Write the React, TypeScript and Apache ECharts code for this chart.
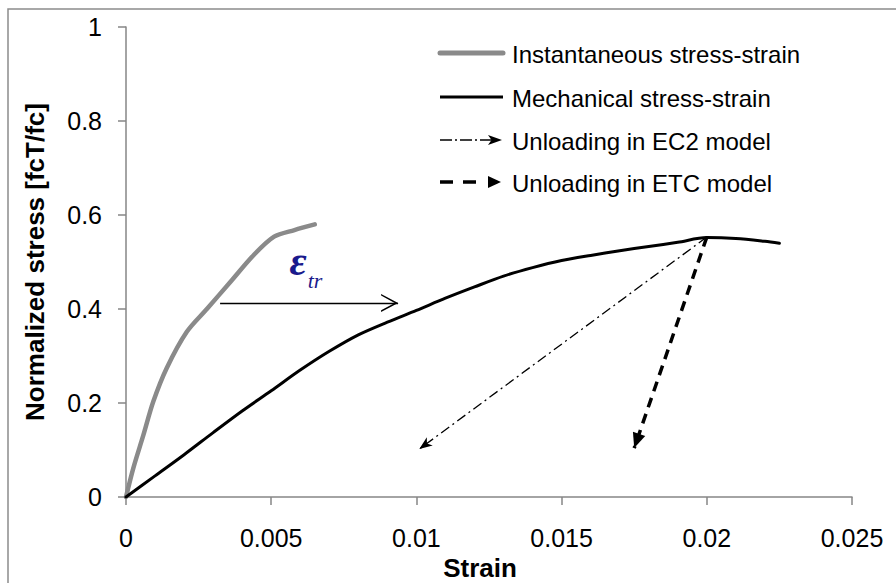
import React, { useEffect, useRef } from "react";
import * as echarts from "echarts";

// ---- data ----
const instStrain = [0, 0.00025, 0.0006, 0.00094, 0.0014, 0.0021, 0.0028, 0.0036, 0.0044, 0.0051, 0.0058, 0.0065];
const instStress = [0, 0.061, 0.132, 0.203, 0.274, 0.352, 0.401, 0.458, 0.515, 0.554, 0.568, 0.58];

const mechStrain = [0, 0.001, 0.002, 0.003, 0.004, 0.005, 0.006, 0.007, 0.008, 0.009, 0.01, 0.011, 0.012, 0.013, 0.014, 0.015, 0.016, 0.017, 0.018, 0.019, 0.02, 0.021, 0.022, 0.0225];
const mechStress = [0, 0.045, 0.09, 0.137, 0.183, 0.226, 0.27, 0.31, 0.345, 0.372, 0.397, 0.423, 0.447, 0.47, 0.488, 0.503, 0.514, 0.524, 0.533, 0.542, 0.552, 0.55, 0.544, 0.54];

// unloading paths [from, to]
const ec2Unloading = [[0.02, 0.553], [0.0101, 0.102]];
const etcUnloading = [[0.02, 0.553], [0.0175, 0.104]];
// transient strain arrow [from, to]
const epsTrArrow = [[0.00324, 0.413], [0.00937, 0.413]];

const xTicks = [0, 0.005, 0.01, 0.015, 0.02, 0.025];
const yTicks = [0, 0.2, 0.4, 0.6, 0.8, 1];

const legendNames = [
  "Instantaneous stress-strain",
  "Mechanical stress-strain",
  "Unloading in EC2 model",
  "Unloading in ETC model",
];

const FONT = '"Liberation Sans", Arial, sans-serif';
const AXIS_GRAY = "#868686";
const CURVE_GRAY = "#8a8a8a";

// arrowhead symbols: tip at the centre of a square box so it lands on the end point
const CHEVRON = "path://M0,0 M34,34 M17,17 L26,34 L24.4,34 L17,20.4 L9.6,34 L8,34 Z";
const BARB = "path://M0,0 M26,26 M13,13 L18,26 L13,22.5 L8,26 Z";
const TRI = "path://M0,0 M30,30 M15,15 L21.5,30 L8.5,30 Z";

export default function App() {
  const ref = useRef<HTMLDivElement>(null);

  useEffect(() => {
    if (!ref.current) return;
    const chart = echarts.init(ref.current, null, { renderer: "svg" });

    const axisLine = { show: true, lineStyle: { color: AXIS_GRAY, width: 1.5 } };
    const axisTick = { show: true, inside: false, length: 8, lineStyle: { color: AXIS_GRAY, width: 1.5 } };

    const legendRowsY = [53, 97, 140, 182];
    const legendGraphics: any[] = [
      { type: "line", shape: { x1: 440, y1: legendRowsY[0], x2: 503, y2: legendRowsY[0] }, style: { stroke: CURVE_GRAY, lineWidth: 5, lineCap: "round" } },
      { type: "line", shape: { x1: 440, y1: legendRowsY[1], x2: 503, y2: legendRowsY[1] }, style: { stroke: "#000", lineWidth: 3 } },
      { type: "line", shape: { x1: 440, y1: legendRowsY[2], x2: 492, y2: legendRowsY[2] }, style: { stroke: "#000", lineWidth: 1.3, lineDash: [12, 3, 2, 3] } },
      { type: "polygon", shape: { points: [[488, legendRowsY[2] - 5], [502, legendRowsY[2]], [488, legendRowsY[2] + 5], [491.5, legendRowsY[2]]] }, style: { fill: "#000" } },
      { type: "line", shape: { x1: 440, y1: legendRowsY[3], x2: 478, y2: legendRowsY[3] }, style: { stroke: "#000", lineWidth: 3.5, lineDash: [13, 10] } },
      { type: "polygon", shape: { points: [[488, legendRowsY[3] - 6], [501, legendRowsY[3]], [488, legendRowsY[3] + 6]] }, style: { fill: "#000" } },
    ];
    legendNames.forEach((n, i) => {
      legendGraphics.push({
        type: "text",
        x: 512,
        y: legendRowsY[i] + 1,
        style: { text: n, fontSize: 24, fontFamily: FONT, fill: "#000", verticalAlign: "middle", align: "left" },
      });
    });

    const option: any = {
      animation: false,
      backgroundColor: "#fff",
      grid: { left: 126, right: 44, top: 27, bottom: 86, containLabel: false, outerBoundsMode: "none" },
      xAxis: {
        type: "value",
        min: xTicks[0],
        max: xTicks[xTicks.length - 1],
        interval: xTicks[1] - xTicks[0],
        splitLine: { show: false },
        axisLine,
        axisTick,
        axisLabel: { show: true, fontSize: 25, color: "#000", fontFamily: FONT, margin: 28, showMinLabel: true, showMaxLabel: true, hideOverlap: false },
        name: "Strain",
        nameLocation: "middle",
        nameGap: 58,
        nameTextStyle: { fontSize: 26, fontWeight: "bold", color: "#000", fontFamily: FONT, padding: [0, 18, 0, 0] },
      },
      yAxis: {
        type: "value",
        min: yTicks[0],
        max: yTicks[yTicks.length - 1],
        interval: yTicks[1] - yTicks[0],
        splitLine: { show: false },
        axisLine,
        axisTick,
        axisLabel: { show: true, fontSize: 25, color: "#000", fontFamily: FONT, margin: 24, showMinLabel: true, showMaxLabel: true, hideOverlap: false },
        name: "Normalized stress [fcT/fc]",
        nameLocation: "middle",
        nameGap: 78,
        nameRotate: 90,
        nameTextStyle: { fontSize: 26, fontWeight: "bold", color: "#000", fontFamily: FONT },
      },
      series: [
        {
          type: "line",
          name: legendNames[0],
          data: instStrain.map((x, i) => [x, instStress[i]]),
          symbol: "none",
          showSymbol: false,
          smooth: 0.3,
          lineStyle: { color: CURVE_GRAY, width: 4.5, cap: "round", join: "round" },
          z: 3,
        },
        {
          type: "line",
          name: legendNames[1],
          data: mechStrain.map((x, i) => [x, mechStress[i]]),
          symbol: "none",
          showSymbol: false,
          smooth: 0.3,
          lineStyle: { color: "#000", width: 3, cap: "round", join: "round" },
          z: 3,
        },
        {
          type: "lines",
          name: legendNames[2],
          coordinateSystem: "cartesian2d",
          data: [{ coords: ec2Unloading }],
          symbol: ["none", BARB],
          symbolSize: [1, 26],
          lineStyle: { color: "#000", width: 1.3, type: [10, 4, 2, 4], opacity: 1, curveness: 0 },
          z: 4,
        },
        {
          type: "lines",
          name: legendNames[3],
          coordinateSystem: "cartesian2d",
          data: [{ coords: etcUnloading }],
          symbol: ["none", TRI],
          symbolSize: [1, 30],
          lineStyle: { color: "#000", width: 3.5, type: [10, 7], opacity: 1, curveness: 0 },
          z: 4,
        },
        {
          type: "lines",
          name: "transient strain",
          coordinateSystem: "cartesian2d",
          data: [{ coords: epsTrArrow }],
          symbol: ["none", CHEVRON],
          symbolSize: [1, 34],
          lineStyle: { color: "#000", width: 1.3, type: "solid", opacity: 1, curveness: 0 },
          z: 4,
        },
      ],
      graphic: [
        { type: "rect", z: -1, shape: { x: 8, y: 9, width: 1000, height: 1000 }, style: { fill: "none", stroke: "#8c8c8c", lineWidth: 1.5 } },
        ...legendGraphics,
        { type: "text", x: 298, y: 261, style: { text: "ε", fontSize: 42, fontWeight: "bold", fontStyle: "italic", fontFamily: '"Liberation Serif", "DejaVu Serif", serif', fill: "#1a1a8c", align: "center", verticalAlign: "middle" } },
        { type: "text", x: 315, y: 280, style: { text: "tr", fontSize: 22, fontStyle: "italic", fontFamily: '"Liberation Serif", "DejaVu Serif", serif', fill: "#1a1a8c", align: "center", verticalAlign: "middle" } },
      ],
    };

    chart.setOption(option);
    return () => chart.dispose();
  }, []);

  return <div ref={ref} style={{ position: "absolute", left: 0, top: 0, width: 896, height: 583, background: "#fff" }} />;
}
